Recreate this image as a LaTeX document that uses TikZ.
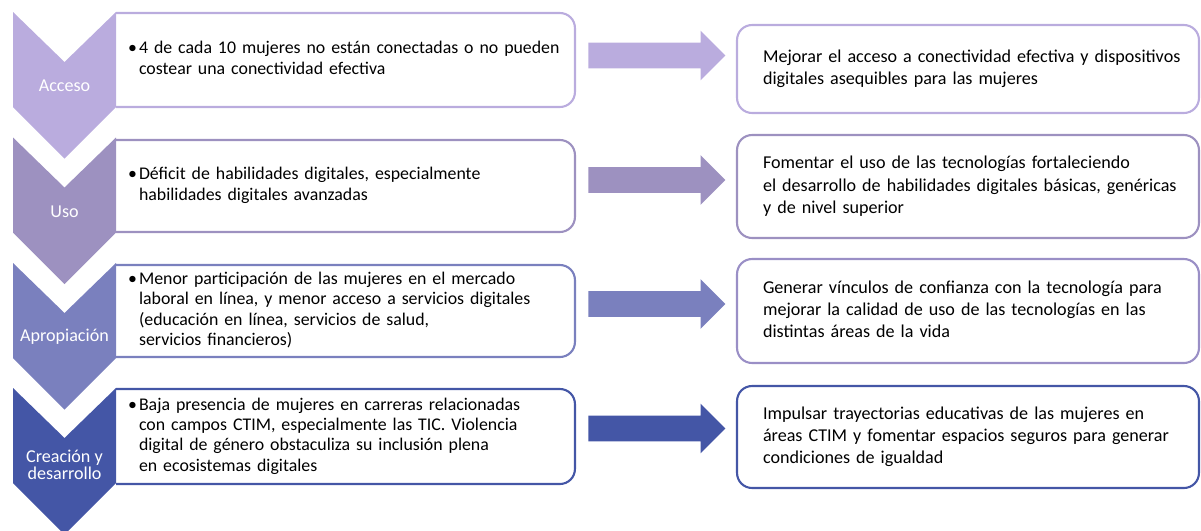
\documentclass[tikz,border=0pt]{standalone}
\usepackage{fontspec}
\setmainfont{Carlito}
\usetikzlibrary{shapes.arrows}

\definecolor{cAcc}{HTML}{BAACDE}
\definecolor{cUso}{HTML}{9D91C0}
\definecolor{cApr}{HTML}{7A80BE}
\definecolor{cCre}{HTML}{4456A6}
\definecolor{cGoalApr}{HTML}{9A8FC6}

\newcommand{\pbul}{\makebox[0.22cm][l]{\textbullet}}

\tikzset{
  chevlabel/.style={text=white, align=center, inner sep=0pt, font=\fontsize{10.3}{9.6}\selectfont},
  probbox/.style={text width=8.7cm, inner xsep=0.24cm, inner ysep=0pt, outer sep=0pt, align=left, font=\fontsize{10.15}{11.6}\selectfont},
  probline/.style={line width=1.2pt, rounded corners=0.3cm},
  goalbox/.style={draw, line width=1.2pt, rounded corners=0.3cm, text width=8.2cm, inner xsep=0.52cm, inner ysep=0pt, align=left, font=\fontsize{10.3}{12.8}\selectfont},
  fatarrow/.style={single arrow, single arrow head extend=0.24cm, single arrow head indent=0pt, minimum height=2.74cm, inner xsep=0pt, inner ysep=0.25cm, draw=none}
}

\begin{document}
\begin{tikzpicture}[x=0.02cm, y=-0.02cm]
  \useasboundingbox (0,0) rectangle (1201,531);

  % problem boxes (left)
  \node [probbox, minimum height=1.88cm] (prob1) at (345.5,60) {\begin{tabular}{@{}l@{}l@{}}\pbul & 4 de cada 10 mujeres no están conectadas o no pueden\\ & costear una conectividad efectiva\end{tabular}};
  \node [probbox, minimum height=1.84cm] (prob2) at (345.5,186) {\begin{tabular}{@{}l@{}l@{}}\pbul & Déficit de habilidades digitales, especialmente\\ & habilidades digitales avanzadas\end{tabular}};
  \node [probbox, minimum height=1.84cm] (prob3) at (345.5,311) {\begin{tabular}{@{}l@{}l@{}}\pbul & Menor participación de las mujeres en el mercado\\ & laboral en línea, y menor acceso a servicios digitales\\ & (educación en línea, servicios de salud,\\ & servicios financieros)\end{tabular}};
  \node [probbox, minimum height=1.90cm] (prob4) at (345.5,436.5) {\begin{tabular}{@{}l@{}l@{}}\pbul & Baja presencia de mujeres en carreras relacionadas\\ & con campos CTIM, especialmente las TIC. Violencia\\ & digital de género obstaculiza su inclusión plena\\ & en ecosistemas digitales\end{tabular}};
  \draw [probline, cAcc] (prob1.north west) -- (prob1.north east) -- (prob1.south east) -- (prob1.south west);
  \draw [probline, cUso] (prob2.north west) -- (prob2.north east) -- (prob2.south east) -- (prob2.south west);
  \draw [probline, cApr] (prob3.north west) -- (prob3.north east) -- (prob3.south east) -- (prob3.south west);
  \draw [probline, cCre] (prob4.north west) -- (prob4.north east) -- (prob4.south east) -- (prob4.south west);

  % chevrons
  \fill [cAcc] (13,12) -- (64.5,62) -- (116,12) -- (116,107) -- (64.5,158.5) -- (13,107) -- cycle;
  \fill [cUso] (13,137.5) -- (64.5,187.5) -- (116,137.5) -- (116,232.5) -- (64.5,284) -- (13,232.5) -- cycle;
  \fill [cApr] (13,263) -- (64.5,313) -- (116,263) -- (116,358) -- (64.5,409.5) -- (13,358) -- cycle;
  \fill [cCre] (13,388) -- (64.5,438) -- (116,388) -- (116,483) -- (64.5,534.5) -- (13,483) -- cycle;
  \node [chevlabel] (acceso) at (64.5,86) {Acceso};
  \node [chevlabel] (uso) at (64.5,212) {Uso};
  \node [chevlabel] (apropiacion) at (64.5,337) {Apropiación};
  \node [chevlabel] (creacion) at (64.5,464.5) {Creación y\\desarrollo};

  % arrows
  \node [fatarrow, fill=cAcc] (arr1) at (650.5,55.5) {};
  \node [fatarrow, fill=cUso] (arr2) at (650.5,180) {};
  \node [fatarrow, fill=cApr] (arr3) at (650.5,304) {};
  \node [fatarrow, fill=cCre] (arr4) at (650.5,428.5) {};

  % goal boxes (right)
  \node [goalbox, draw=cAcc, minimum height=1.76cm] (goal1) at (968,69) {\begin{tabular}{@{}l@{}}Mejorar el acceso a conectividad efectiva y dispositivos\\ digitales asequibles para las mujeres\end{tabular}};
  \node [goalbox, draw=cUso, minimum height=2.06cm] (goal2) at (968,186.5) {\begin{tabular}{@{}l@{}}Fomentar el uso de las tecnologías fortaleciendo\\ el desarrollo de habilidades digitales básicas, genéricas\\ y de nivel superior\end{tabular}};
  \node [goalbox, draw=cGoalApr, minimum height=2.08cm] (goal3) at (968,311) {\begin{tabular}{@{}l@{}}Generar vínculos de confianza con la tecnología para\\ mejorar la calidad de uso de las tecnologías en las\\ distintas áreas de la vida\end{tabular}};
  \node [goalbox, draw=cCre, minimum height=2.04cm] (goal4) at (968,437) {\begin{tabular}{@{}l@{}}Impulsar trayectorias educativas de las mujeres en\\ áreas CTIM y fomentar espacios seguros para generar\\ condiciones de igualdad\end{tabular}};
\end{tikzpicture}
\end{document}
